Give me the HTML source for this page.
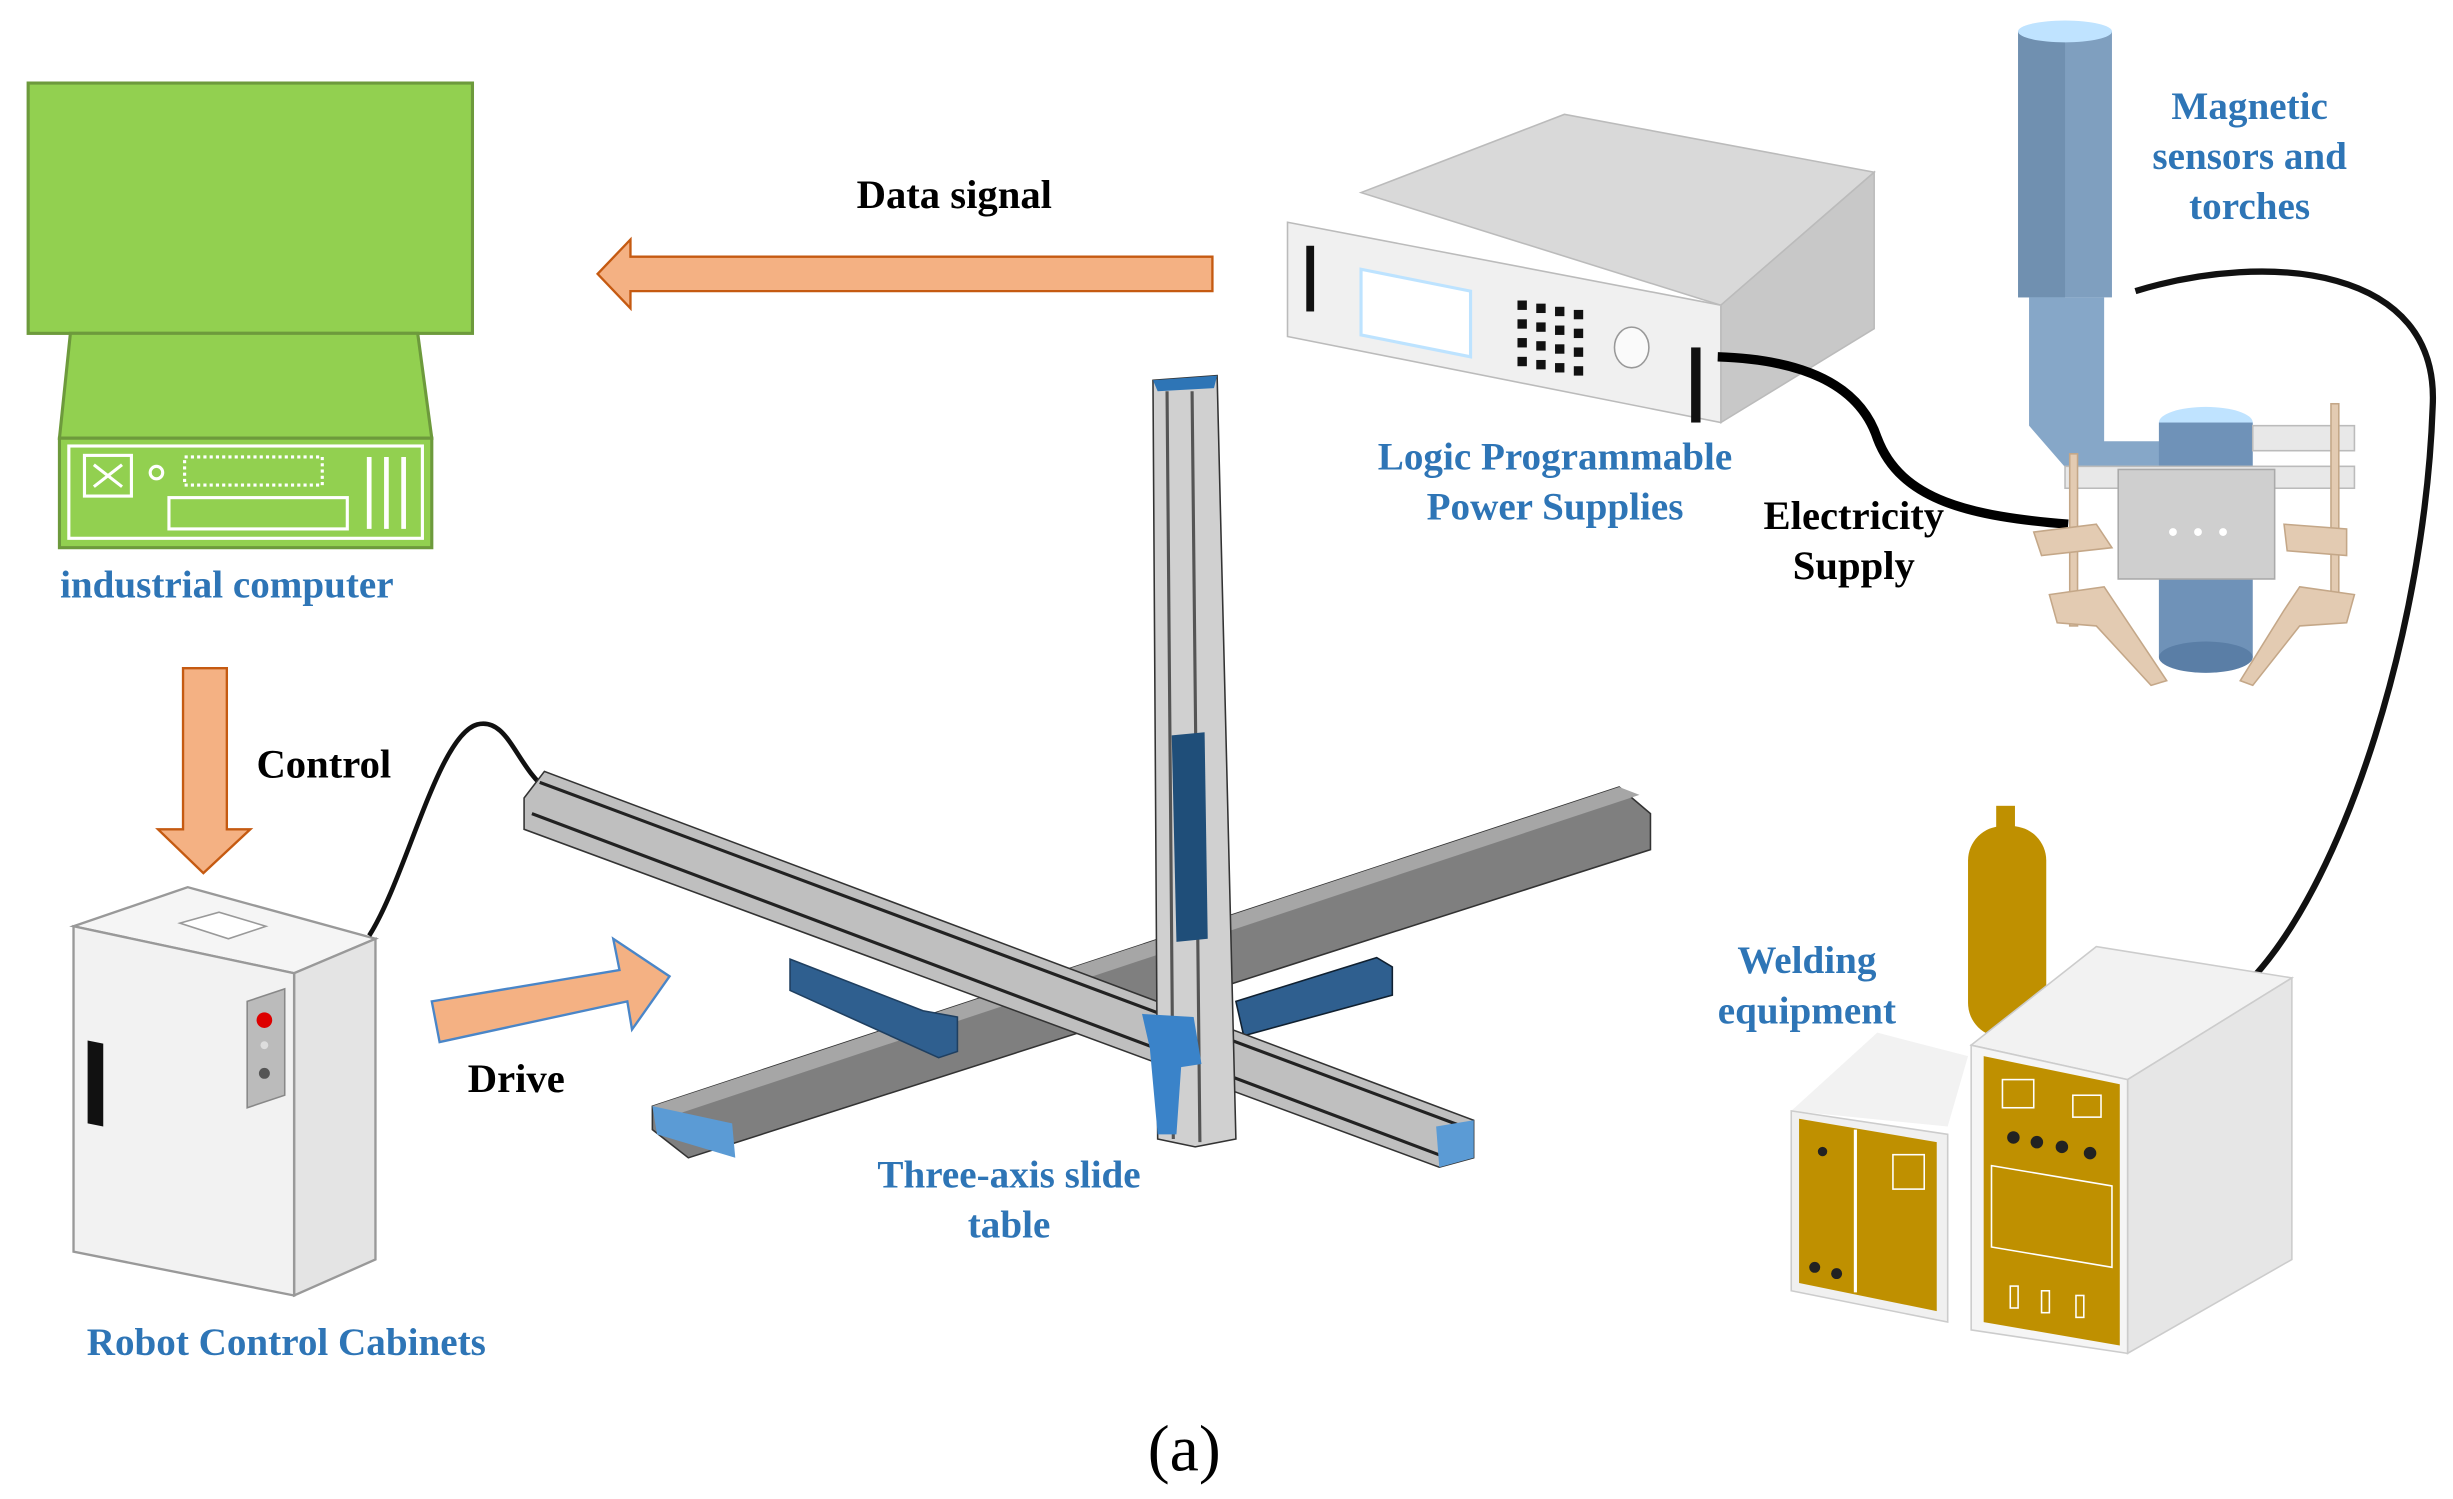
<!DOCTYPE html>
<html><head><meta charset="utf-8"><style>
html,body{margin:0;padding:0;background:#fff;}
svg{display:block;}
text{font-family:"Liberation Serif",serif;font-weight:bold;}
.b{fill:#2e75b6;font-size:25px;}
.k{fill:#000;font-size:26px;}
</style></head><body>
<svg width="2453" height="1499" viewBox="0 0 1568 958" xmlns="http://www.w3.org/2000/svg">
<!-- industrial computer -->
<rect x="18" y="53" width="284" height="160" fill="#92d050" stroke="#6d9a3c" stroke-width="2"/>
<polygon points="45,213 267,213 276,280 38,280" fill="#92d050" stroke="#6d9a3c" stroke-width="2"/>
<rect x="38" y="280" width="238" height="70" fill="#92d050" stroke="#6d9a3c" stroke-width="2"/>
<rect x="44" y="285" width="226" height="59" fill="none" stroke="#fff" stroke-width="2"/>
<rect x="54" y="291" width="30" height="26" fill="#92d050" stroke="#fff" stroke-width="2"/>
<path d="M60 297 L78 311 M78 297 L60 311" stroke="#fff" stroke-width="2"/>
<circle cx="100" cy="302" r="4" fill="none" stroke="#fff" stroke-width="2"/>
<rect x="118" y="292" width="88" height="18" fill="none" stroke="#fff" stroke-width="2" stroke-dasharray="2 2"/>
<rect x="108" y="318" width="114" height="20" fill="#92d050" stroke="#fff" stroke-width="2"/>
<path d="M236 292 V338 M247 292 V338 M258 292 V338" stroke="#fff" stroke-width="3"/>
<text class="b" x="145" y="382" text-anchor="middle">industrial computer</text>

<!-- data signal arrow -->
<polygon points="775,164 403,164 403,153 382,175 403,197 403,186 775,186" fill="#f4b183" stroke="#c55a11" stroke-width="1.5"/>
<text class="k" x="610" y="133" text-anchor="middle">Data signal</text>

<!-- control arrow -->
<polygon points="117,427 145,427 145,530 160,530 130,558 101,530 117,530" fill="#f4b183" stroke="#c55a11" stroke-width="1.5"/>
<text class="k" x="207" y="497" text-anchor="middle">Control</text>

<!-- drive arrow -->
<polygon points="276,640 396,620 392,600 428,624 404,658 401,640 281,666" fill="#f4b183" stroke="#4a86c8" stroke-width="1.5"/>
<text class="k" x="330" y="698" text-anchor="middle" font-size="24">Drive</text>

<!-- cabinet -->
<polygon points="47,592 120,567 240,600 188,622" fill="#f5f5f5" stroke="#999" stroke-width="1.5"/>
<polygon points="188,622 240,600 240,805 188,828" fill="#e4e4e4" stroke="#999" stroke-width="1.5"/>
<polygon points="47,592 188,622 188,828 47,800" fill="#f2f2f2" stroke="#999" stroke-width="1.5"/>
<polygon points="115,590 140,583 170,592 146,600" fill="#fff" stroke="#999"/>
<polygon points="56,665 66,667 66,720 56,718" fill="#111"/>
<polygon points="158,640 182,632 182,700 158,708" fill="#bbb" stroke="#888"/>
<circle cx="169" cy="652" r="5" fill="#d00"/>
<circle cx="169" cy="668" r="2.5" fill="#ddd"/>
<circle cx="169" cy="686" r="3.5" fill="#555"/>
<path d="M236 598 C260 560 280 470 305 463 C325 458 330 490 350 505" fill="none" stroke="#111" stroke-width="3"/>
<text class="b" x="183" y="866" text-anchor="middle">Robot Control Cabinets</text>

<!-- slide table: back bar (lower dark) -->
<polygon points="417,707 1035,503 1055,520 1055,543 440,740 417,722" fill="#7f7f7f" stroke="#333" stroke-width="1"/>
<polygon points="417,707 1035,503 1048,508 430,713" fill="#a6a6a6"/>
<polygon points="417,707 468,718 470,740 420,725" fill="#5b9bd5"/>
<polygon points="505,613 590,646 612,650 612,672 600,676 505,633" fill="#2f5f8f" stroke="#1f3f60"/>
<polygon points="790,640 880,612 890,618 890,636 795,662" fill="#2f5f8f" stroke="#102030"/>
<!-- front bar -->
<polygon points="335,510 348,493 942,716 942,740 920,746 335,530" fill="#bfbfbf" stroke="#333" stroke-width="1"/>
<path d="M345 500 L935 720 M340 520 L925 740" stroke="#222" stroke-width="2"/>
<polygon points="918,720 942,716 942,740 920,746" fill="#5b9bd5"/>
<!-- vertical -->
<polygon points="737,243 778,240 790,728 764,733 740,728" fill="#d0d0d0" stroke="#333"/>
<polygon points="737,243 778,240 776,248 740,250" fill="#2e75b6"/>
<path d="M746 250 L750 728 M762 250 L767 730" stroke="#555" stroke-width="2"/>
<polygon points="749,470 770,468 772,600 752,602" fill="#1f4e79"/>
<polygon points="730,648 763,650 768,680 755,682 752,725 740,725 735,670" fill="#3a83c9"/>
<text class="b" x="645" y="759" text-anchor="middle">Three-axis slide</text>
<text class="b" x="645" y="791" text-anchor="middle">table</text>

<!-- power supply -->
<polygon points="870,123 1000,73 1198,110 1100,195" fill="#d9d9d9" stroke="#bbb"/>
<polygon points="1100,195 1198,110 1198,210 1100,270" fill="#c8c8c8" stroke="#bbb"/>
<polygon points="823,142 1100,195 1100,270 823,215" fill="#f0f0f0" stroke="#bbb"/>
<rect x="835" y="157" width="5" height="42" fill="#111"/>
<polygon points="870,172 940,186 940,228 870,214" fill="#fff" stroke="#bde3ff" stroke-width="2"/>
<g fill="#111">
<rect x="970" y="192" width="6" height="6"/><rect x="982" y="194" width="6" height="6"/><rect x="994" y="196" width="6" height="6"/><rect x="1006" y="198" width="6" height="6"/>
<rect x="970" y="204" width="6" height="6"/><rect x="982" y="206" width="6" height="6"/><rect x="994" y="208" width="6" height="6"/><rect x="1006" y="210" width="6" height="6"/>
<rect x="970" y="216" width="6" height="6"/><rect x="982" y="218" width="6" height="6"/><rect x="994" y="220" width="6" height="6"/><rect x="1006" y="222" width="6" height="6"/>
<rect x="970" y="228" width="6" height="6"/><rect x="982" y="230" width="6" height="6"/><rect x="994" y="232" width="6" height="6"/><rect x="1006" y="234" width="6" height="6"/>
</g>
<ellipse cx="1043" cy="222" rx="11" ry="13" fill="#fafafa" stroke="#999"/>
<rect x="1081" y="222" width="6" height="48" fill="#111"/>
<path d="M1098 228 C1160 230 1190 250 1200 280 C1215 320 1260 330 1322 335" fill="none" stroke="#000" stroke-width="6"/>
<text class="b" x="994" y="300" text-anchor="middle">Logic Programmable</text>
<text class="b" x="994" y="332" text-anchor="middle">Power Supplies</text>
<text class="k" x="1185" y="338" text-anchor="middle" font-size="25">Electricity</text>
<text class="k" x="1185" y="370" text-anchor="middle" font-size="25">Supply</text>

<!-- torch -->
<rect x="1290" y="20" width="60" height="170" fill="#7f9fbf"/>
<rect x="1290" y="20" width="30" height="170" fill="#7090b0"/>
<ellipse cx="1320" cy="20" rx="30" ry="7" fill="#bfe3ff"/>
<polygon points="1297,190 1345,190 1345,282 1405,282 1405,300 1330,310 1297,272" fill="#86a7c8"/>
<ellipse cx="1410" cy="270" rx="30" ry="10" fill="#bfe3ff"/>
<rect x="1380" y="270" width="60" height="150" fill="#6f92b8"/>
<ellipse cx="1410" cy="420" rx="30" ry="10" fill="#5a7ea6"/>
<rect x="1320" y="298" width="185" height="14" fill="#e8e8e8" stroke="#bbb"/>
<rect x="1440" y="272" width="65" height="16" fill="#e8e8e8" stroke="#bbb"/>
<rect x="1354" y="300" width="100" height="70" fill="#cfcfcf" stroke="#aaa"/>
<circle cx="1389" cy="340" r="2.5" fill="#fff"/><circle cx="1405" cy="340" r="2.5" fill="#fff"/><circle cx="1421" cy="340" r="2.5" fill="#fff"/>
<g fill="#e3cbb2" stroke="#c4a788">
<rect x="1323" y="290" width="5" height="110"/><rect x="1490" y="258" width="5" height="140"/>
<polygon points="1300,340 1340,335 1350,350 1305,355"/><polygon points="1460,335 1500,338 1500,355 1462,352"/>
<polygon points="1310,380 1345,375 1355,390 1385,435 1375,438 1340,400 1315,398"/>
<polygon points="1470,375 1505,380 1500,398 1470,400 1440,438 1432,435 1460,390"/>
</g>
<path d="M1365 186 C1450 160 1560 170 1555 260 C1550 400 1500 560 1440 625" fill="none" stroke="#111" stroke-width="4"/>
<text class="b" x="1438" y="76" text-anchor="middle">Magnetic</text>
<text class="b" x="1438" y="108" text-anchor="middle">sensors and</text>
<text class="b" x="1438" y="140" text-anchor="middle">torches</text>

<!-- welding equipment -->
<rect x="1258" y="528" width="50" height="135" rx="22" fill="#bf9000"/>
<rect x="1276" y="515" width="12" height="15" fill="#bf9000"/>
<polygon points="1145,710 1200,660 1258,675 1245,720" fill="#f2f2f2"/>
<polygon points="1145,710 1245,725 1245,845 1145,825" fill="#f0f0f0" stroke="#ccc"/>
<polygon points="1150,715 1238,730 1238,838 1150,820" fill="#bf9000"/>
<path d="M1186 722 V826" stroke="#fff" stroke-width="2"/>
<rect x="1210" y="738" width="20" height="22" fill="none" stroke="#fff"/>
<circle cx="1165" cy="736" r="3" fill="#222"/><circle cx="1160" cy="810" r="3.5" fill="#222"/><circle cx="1174" cy="814" r="3.5" fill="#222"/>
<polygon points="1260,668 1340,605 1465,625 1360,690" fill="#f2f2f2" stroke="#ccc"/>
<polygon points="1360,690 1465,625 1465,805 1360,865" fill="#e6e6e6" stroke="#ccc"/>
<polygon points="1260,668 1360,690 1360,865 1260,850" fill="#f5f5f5" stroke="#ccc"/>
<polygon points="1268,675 1355,693 1355,860 1268,845" fill="#bf9000"/>
<rect x="1280" y="690" width="20" height="18" fill="none" stroke="#fff"/>
<rect x="1325" y="700" width="18" height="14" fill="none" stroke="#fff"/>
<circle cx="1287" cy="727" r="4" fill="#222"/><circle cx="1302" cy="730" r="4" fill="#222"/><circle cx="1318" cy="733" r="4" fill="#222"/><circle cx="1336" cy="737" r="4" fill="#222"/>
<polygon points="1273,745 1350,758 1350,810 1273,797" fill="none" stroke="#fff"/>
<rect x="1285" y="822" width="5" height="14" fill="none" stroke="#fff"/><rect x="1305" y="825" width="5" height="14" fill="none" stroke="#fff"/><rect x="1327" y="828" width="5" height="14" fill="none" stroke="#fff"/>
<text class="b" x="1155" y="622" text-anchor="middle">Welding</text>
<text class="b" x="1155" y="654" text-anchor="middle">equipment</text>

<text x="757" y="940" text-anchor="middle" style="font-weight:normal;font-size:42px;fill:#000">(a)</text>
</svg>
</body></html>
